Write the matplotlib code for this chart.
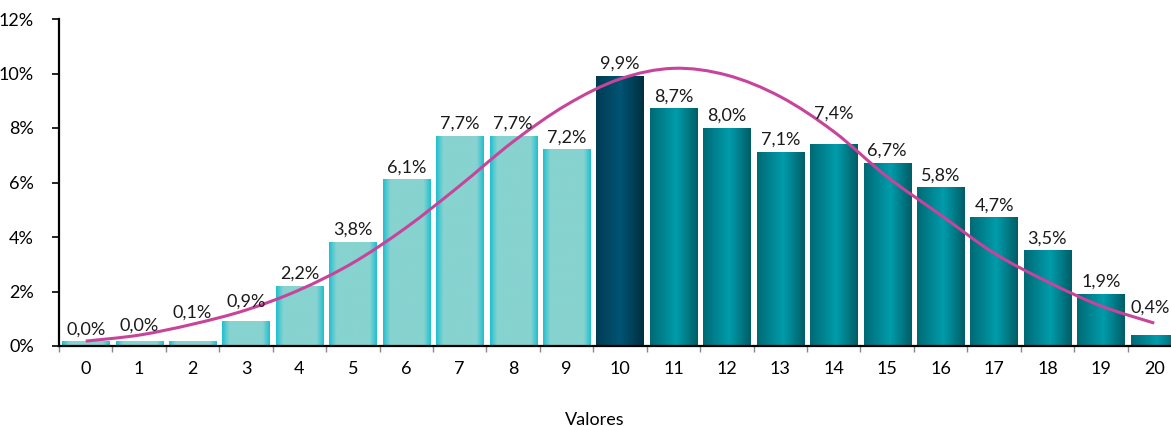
import numpy as np
import matplotlib
matplotlib.use("Agg")
import matplotlib.pyplot as plt
from matplotlib.colors import LinearSegmentedColormap
from matplotlib.path import Path
from matplotlib.patches import PathPatch

plt.rcParams['font.family'] = ['Lato', 'DejaVu Sans']

# data
valores = list(range(21))
frecuencia = [0.0004, 0.0004, 0.0012, 0.009, 0.022, 0.038, 0.061, 0.077, 0.077, 0.072,
              0.099, 0.087, 0.080, 0.071, 0.074, 0.067, 0.058, 0.047, 0.035, 0.019, 0.004]
curva = [0.0018, 0.0040, 0.0080, 0.0132, 0.0206, 0.0305, 0.0435, 0.0588, 0.0750, 0.0885,
         0.0980, 0.1019, 0.0994, 0.0915, 0.0787, 0.0621, 0.0481, 0.0341, 0.0236, 0.0147, 0.0084]
grupo = ['bajo'] * 10 + ['moda'] + ['alto'] * 10
y_ticks = [0, 2, 4, 6, 8, 10, 12]

# horizontal gradients for each bar group
gradientes = {
    'bajo': LinearSegmentedColormap.from_list('bajo', [(0, '#20bfcf'), (0.15, '#86d3d0'),
                                                      (0.85, '#88d3d1'), (1, '#20bfcf')]),
    'moda': LinearSegmentedColormap.from_list('moda', [(0, '#003c52'), (0.5, '#005474'),
                                                      (1, '#002f40')]),
    'alto': LinearSegmentedColormap.from_list('alto', [(0, '#006a75'), (0.55, '#009cab'),
                                                      (1, '#005d66')]),
}

# label offsets (pixels) where the original moved labels off the curve / edge
label_lift = {1: 16, 2: 29, 3: 20, 14: 31, 20: 27}
label_shift = {20: -4}

fig = plt.figure(figsize=(11.71, 4.26), dpi=100)
ax = fig.add_axes([59 / 1171, 80 / 426, 1122 / 1171, 327 / 426])

ancho = 0.885
min_alto = 0.0015
ramp = np.linspace(0, 1, 200).reshape(1, -1)
for x, v, g in zip(valores, frecuencia, grupo):
    h = max(v, min_alto)
    ax.imshow(ramp, cmap=gradientes[g], aspect='auto', interpolation='bilinear',
              extent=(x - ancho / 2, x + ancho / 2, 0, h), zorder=2)
    lift = label_lift.get(x, 12.5)
    dx = label_shift.get(x, 0)
    ax.annotate(f"{v * 100:.1f}%".replace('.', ','), (x, h), xytext=(dx * 0.72, lift * 0.72),
                textcoords='offset points', ha='center', va='center', fontsize=13,
                color='#1a1a1a', zorder=4)

# smoothed line like Excel: bezier segments with catmull-rom style handles
pts = np.column_stack([valores, curva])
verts = [pts[0]]
codes = [Path.MOVETO]
for i in range(len(pts) - 1):
    p0 = pts[max(i - 1, 0)]
    p1 = pts[i]
    p2 = pts[i + 1]
    p3 = pts[min(i + 2, len(pts) - 1)]
    verts += [p1 + (p2 - p0) / 6, p2 - (p3 - p1) / 6, p2]
    codes += [Path.CURVE4] * 3
ax.add_patch(PathPatch(Path(verts, codes), facecolor='none', edgecolor='#c8449b',
                       lw=2.2, zorder=3, capstyle='butt'))

ax.set_xlim(-0.5, 20.5)
ax.set_ylim(0, 0.12)
ax.set_yticks([t / 100 for t in y_ticks])
ax.set_yticklabels([f"{t}%" for t in y_ticks], fontsize=13)
ax.set_xticks(valores)
ax.set_xticklabels([str(v) for v in valores], fontsize=13)
ax.set_xticks(np.arange(-0.5, 20.6, 1), minor=True)
ax.tick_params(axis='x', which='major', length=0, pad=11)
ax.tick_params(axis='x', which='minor', length=4, color='#888888', width=1)
ax.tick_params(axis='y', length=5, width=1.2, pad=13)

for s in ['top', 'right']:
    ax.spines[s].set_visible(False)
for s in ['left', 'bottom']:
    ax.spines[s].set_linewidth(1.6)
    ax.spines[s].set_zorder(5)

fig.text(595 / 1171, 1 - 420 / 426, 'Valores', ha='center', va='center', fontsize=13)

fig.savefig('out.png', dpi=100)
